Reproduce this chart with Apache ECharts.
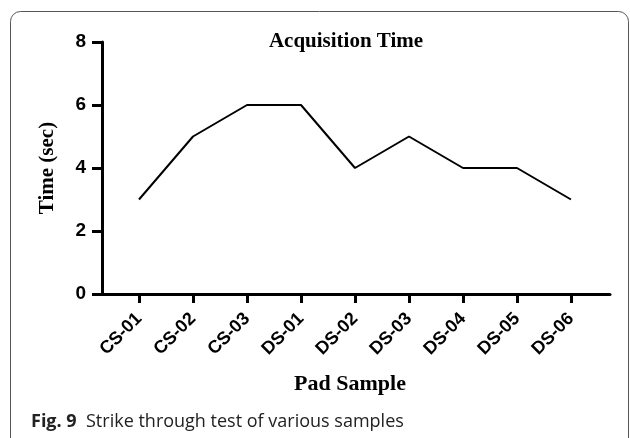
<!DOCTYPE html>
<html>
<head>
<meta charset="utf-8">
<script src="https://cdn.jsdelivr.net/npm/echarts@6/dist/echarts.min.js"></script>
<style>
    html,body{margin:0;padding:0;background:#fff;}
    #main{width:630px;height:438px;}
</style>
</head>
<body>
<div id="main"></div>
<script>
    // 数据
    var categories = ['CS-01','CS-02','CS-03','DS-01','DS-02','DS-03','DS-04','DS-05','DS-06'];
    var timeValues = [3,5,6,6,4,5,4,4,3];
    var yTicks = [0,2,4,6,8];

    var serif = '"Liberation Serif","DejaVu Serif",serif';
    var sans = '"Liberation Sans",Arial,sans-serif';
    var capFont = '"Open Sans","Noto Sans",sans-serif';

    var myChart = echarts.init(document.getElementById('main'));

    var option = {
        backgroundColor:'#fff',
        animation:false,
        title:[{
            text:'Acquisition Time',
            left:341,
            top:26,
            textAlign:'center',
            textStyle:{fontFamily:serif,fontWeight:'bold',fontSize:21,color:'#000'}
        },{
            text:'{b|Fig. 9}  Strike through test of various samples',
            left:26,
            top:408,
            textStyle:{
                fontFamily:capFont,fontSize:18,color:'#222',fontWeight:'normal',
                rich:{b:{fontFamily:capFont,fontWeight:'bold',fontSize:18,color:'#222'}}
            }
        }],
        graphic:[{
            type:'rect',
            shape:{x:10.5,y:11.5,width:618,height:445,r:10},
            style:{fill:'none',stroke:'#555',lineWidth:1},
            silent:true
        }],
        grid:[
            {left:112,right:32,top:42,bottom:144},
            //只用来画x轴的线
            {left:102,right:20,top:42,bottom:144}
        ],
        xAxis:[{
            type:'category',
            data:categories,
            boundaryGap:true,
            name:'Pad Sample',
            nameLocation:'middle',
            nameGap:79,
            nameTextStyle:{fontFamily:serif,fontWeight:'bold',fontSize:22,color:'#000',padding:[0,10,0,0]},
            axisLine:{show:false},
            axisTick:{show:true,alignWithLabel:true,length:9,lineStyle:{color:'#000',width:3}},
            axisLabel:{rotate:45,margin:22,fontFamily:sans,fontWeight:'bold',fontSize:18,color:'#000'},
            splitLine:{show:false}
        },{
            type:'value',
            gridIndex:1,
            min:0,max:1,
            axisLine:{show:true,lineStyle:{color:'#000',width:3}},
            axisTick:{show:false},
            axisLabel:{show:false},
            splitLine:{show:false}
        }],
        yAxis:[{
            type:'value',
            min:yTicks[0],
            max:yTicks[yTicks.length-1],
            interval:yTicks[1]-yTicks[0],
            offset:10,
            name:'Time (sec)',
            nameLocation:'middle',
            nameGap:44,
            nameTextStyle:{fontFamily:serif,fontWeight:'bold',fontSize:21,color:'#000'},
            axisLine:{show:true,lineStyle:{color:'#000',width:3}},
            axisTick:{show:true,length:10,lineStyle:{color:'#000',width:3}},
            axisLabel:{margin:16,fontFamily:sans,fontWeight:'bold',fontSize:19,color:'#000'},
            splitLine:{show:false}
        },{
            type:'value',
            gridIndex:1,
            min:0,max:1,
            show:false
        }],
        series:[{
            type:'line',
            data:timeValues,
            symbol:'none',
            lineStyle:{color:'#000',width:2},
            itemStyle:{color:'#000'}
        }]
    };

    myChart.setOption(option);
</script>
</body>
</html>
